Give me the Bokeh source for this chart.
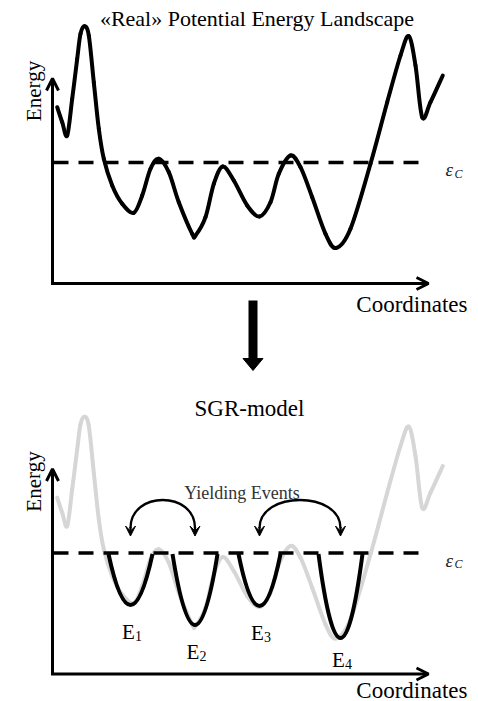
from bokeh.plotting import figure
from bokeh.models import Range1d, Arrow, OpenHead, VeeHead
from bokeh.core.properties import value
from bokeh.embed import file_html
from bokeh.resources import INLINE

# ---- data (schematic units: x = coordinate, e = energy; origin at axes corner) ----
land_x = [4.7, 9.7, 14.7, 19.7, 24.7, 28.0, 32.0, 36.3, 41.3, 46.3, 51.3, 59.7, 69.7,
          81.3, 89.7, 98.0, 106.3, 116.3, 126.3, 139.7, 143.0, 153.0, 161.3, 170.3,
          181.3, 194.7, 207.0, 218.0, 226.3, 238.0, 248.0, 259.7, 273.0, 283.5, 298.0,
          318.0, 334.7, 348.0, 356.3, 363.0, 369.7, 378.0, 390.3]
land_e = [176.3, 161.3, 148.0, 184.7, 224.7, 249.7, 257.3, 248.0, 201.3, 154.7, 124.7,
          98.0, 79.7, 70.7, 88.0, 114.7, 124.7, 111.3, 81.3, 49.7, 48.0, 66.3, 99.7,
          117.0, 103.0, 78.0, 67.0, 81.3, 109.7, 128.0, 116.3, 86.3, 49.7, 35.5, 54.7,
          119.7, 181.3, 228.0, 247.3, 218.0, 166.3, 181.3, 208.0]
eps_c = 121
well_x = [78, 142.5, 207, 288]
well_e = [69, 49, 68, 36]
well_hw = [22, 22.5, 21, 22]
well_sub = ["1", "2", "3", "4"]
yield_pairs = [(0, 1), (2, 3)]
panel_offset = [0, -390.5]
panel_title = ["\u00abReal\u00bb Potential Energy Landscape", "SGR-model"]
x_label = "Coordinates"
y_label = "Energy"
yield_label = "Yielding Events"

# ---- layout / style ----
panel_title_x = [204.5, 197]
panel_title_size = ["22px", "23px"]
coord_adj = [0, 5]
label_gap = [26.5, 26.5, 26.5, 21.5]
axis_len_x = 376
axis_len_y = 205
FONT = value("Liberation Serif")

p = figure(width=478, height=701, x_range=Range1d(-52, 426), y_range=Range1d(-418, 283),
           output_backend="svg", toolbar_location=None, min_border=0,
           x_axis_location=None, y_axis_location=None)
p.grid.visible = False
p.outline_line_color = None
p.background_fill_color = "white"


def catmull_bezier(xs, ys, dy):
    n = len(xs)
    X0, Y0, X1, Y1, CX0, CY0, CX1, CY1 = ([] for _ in range(8))
    for i in range(n - 1):
        im = max(i - 1, 0)
        ip = min(i + 2, n - 1)
        X0.append(xs[i]); Y0.append(ys[i] + dy)
        X1.append(xs[i + 1]); Y1.append(ys[i + 1] + dy)
        CX0.append(xs[i] + (xs[i + 1] - xs[im]) / 6)
        CY0.append(ys[i] + (ys[i + 1] - ys[im]) / 6 + dy)
        CX1.append(xs[i + 1] - (xs[ip] - xs[i]) / 6)
        CY1.append(ys[i + 1] - (ys[ip] - ys[i]) / 6 + dy)
    return dict(x0=X0, y0=Y0, x1=X1, y1=Y1, cx0=CX0, cy0=CY0, cx1=CX1, cy1=CY1)


for k, off in enumerate(panel_offset):
    # landscape
    color = "black" if k == 0 else "#d6d6d6"
    p.bezier(**catmull_bezier(land_x, land_e, off), line_color=color, line_width=4,
             line_cap="round")
    # critical energy line
    p.line([1, 368], [eps_c + off, eps_c + off], line_color="black", line_width=3.5,
           line_dash="15 10")
    p.text(x=[393], y=[eps_c - 7 + off], text=["\u03b5"], text_font=FONT,
           text_font_style="italic", text_font_size="19px", text_baseline="alphabetic",
           text_align="left", text_color="#222222")
    p.text(x=[402], y=[eps_c - 11 + off], text=["C"], text_font=FONT,
           text_font_style="italic", text_font_size="12px", text_baseline="alphabetic",
           text_align="left", text_color="#222222")
    # axes
    p.add_layout(Arrow(end=OpenHead(size=12, line_width=3), x_start=0, y_start=off,
                       x_end=0, y_end=off + axis_len_y, line_width=3))
    p.add_layout(Arrow(end=OpenHead(size=12, line_width=3), x_start=-1.5, y_start=off,
                       x_end=axis_len_x, y_end=off, line_width=3))
    p.text(x=[-19], y=[192.5 + off], text=[y_label], angle=1.5708, text_font=FONT,
           text_font_size="21px", text_align="center", text_baseline="alphabetic")
    p.text(x=[415], y=[-21 + off + coord_adj[k]], text=[x_label], text_font=FONT,
           text_font_size="23px", text_align="right", text_baseline="alphabetic")
    p.text(x=[panel_title_x[k]], y=[265.5 + off], text=[panel_title[k]], text_font=FONT,
           text_font_size=panel_title_size[k], text_align="center",
           text_baseline="alphabetic")

off = panel_offset[1]
# wells of the SGR model (parabolic traps)
p.quadratic(x0=[c - w for c, w in zip(well_x, well_hw)],
            y0=[eps_c + off - 1] * len(well_x),
            x1=[c + w for c, w in zip(well_x, well_hw)],
            y1=[eps_c + off - 1] * len(well_x),
            cx=well_x, cy=[2 * (e + off) - (eps_c - 1 + off) for e in well_e],
            line_color="black", line_width=4, line_cap="butt")
p.text(x=[c - 2 for c in well_x], y=[e - g + off for e, g in zip(well_e, label_gap)],
       text=["E"] * 4, text_font=FONT, text_font_size="21px", text_align="center",
       text_baseline="alphabetic")
p.text(x=[c + 4.5 for c in well_x], y=[e - g - 4.5 + off for e, g in zip(well_e, label_gap)],
       text=well_sub, text_font=FONT, text_font_size="14px", text_align="left",
       text_baseline="alphabetic")

# yielding events
tip_e, end_e, apex_e = 138, 146, 174
for a, b in yield_pairs:
    xa, xb = well_x[a], well_x[b]
    ctrl = end_e + (apex_e - end_e) / 0.75
    p.bezier(x0=[xa], y0=[end_e + off], x1=[xb], y1=[end_e + off],
             cx0=[xa], cy0=[ctrl + off], cx1=[xb], cy1=[ctrl + off],
             line_color="black", line_width=2.3)
    for xx in (xa, xb):
        p.add_layout(Arrow(end=VeeHead(size=10, fill_color="black", line_color="black",
                                       line_width=1),
                           x_start=xx, y_start=end_e + 1 + off, x_end=xx, y_end=tip_e + off,
                           line_width=2.3))
p.text(x=[189.5], y=[181.5 + off], text=[yield_label], text_font=FONT,
       text_font_size="18px", text_align="center", text_baseline="alphabetic",
       text_color="#333333")

# transition arrow between panels
ax, a_top, a_tip, head_len, head_w = 200.5, -17, -87, 12, 20
p.segment(x0=[ax], y0=[a_top], x1=[ax], y1=[a_tip + head_len], line_width=9,
          line_color="black", line_cap="butt")
p.patch(x=[ax - head_w / 2, ax + head_w / 2, ax], y=[a_tip + head_len, a_tip + head_len, a_tip],
        fill_color="black", line_color="black", line_width=1)

open("out.html", "w").write(file_html(p, INLINE))
